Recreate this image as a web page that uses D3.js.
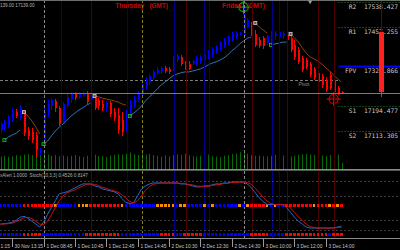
<!DOCTYPE html>
<html>
<head>
<meta charset="utf-8">
<script src="https://cdn.jsdelivr.net/npm/d3@7"></script>
<style>
html, body { margin: 0; padding: 0; background: #000; }
svg { display: block; }
text { white-space: pre; }
</style>
</head>
<body>
<div id="chart"></div>
<script>
// 15 min bars
var barOpen = [17117,17124,17130,17150,17176,17157,17176,17117,17111,17101,
    17045,17081,17170,17196,17213,17190,17144,17196,17219,17236,
    17226,17232,17239,17216,17222,17216,17203,17190,17206,17176,
    17167,17150,17117,17170,17196,17216,17236,17262,17275,17288,
    17305,17311,17321,17318,17314,17347,17357,17337,17334,17337,
    17334,17341,17347,17357,17364,17374,17380,17393,17403,17413,
    17423,17433,17426,17456,17462,17433,17413,17420,17403,17413,
    17426,17423,17426,17429,17420,17397,17380,17354,17347,17334,
    17318,17305,17295,17282,17298,17282,17255,17242];
var barHigh = [17144,17150,17167,17190,17186,17199,17180,17127,17124,17111,
    17058,17190,17216,17222,17219,17196,17209,17236,17242,17242,
    17242,17242,17245,17236,17226,17222,17216,17213,17213,17190,
    17190,17176,17183,17216,17229,17245,17282,17291,17301,17314,
    17324,17328,17328,17324,17360,17367,17364,17344,17344,17347,
    17360,17364,17374,17380,17390,17397,17410,17420,17429,17439,
    17443,17439,17525,17485,17472,17446,17423,17426,17429,17443,
    17443,17446,17443,17436,17426,17413,17390,17360,17354,17341,
    17324,17311,17301,17291,17308,17288,17262,17245];
var barLow = [17107,17114,17124,17144,17157,17150,17098,17084,17075,17025,
    17032,17078,17160,17183,17176,17130,17140,17190,17206,17216,
    17219,17226,17203,17209,17183,17183,17180,17176,17160,17147,
    17104,17098,17111,17167,17190,17209,17229,17249,17265,17282,
    17298,17305,17305,17301,17311,17341,17328,17314,17314,17331,
    17328,17334,17341,17351,17357,17367,17377,17387,17397,17406,
    17416,17429,17420,17452,17426,17390,17387,17383,17397,17403,
    17413,17413,17416,17410,17374,17347,17334,17308,17318,17291,
    17282,17268,17255,17242,17249,17232,17232,17236];
var barClose = [17137,17144,17157,17180,17163,17193,17107,17098,17084,17052,
    17052,17176,17203,17216,17190,17137,17203,17226,17236,17222,
    17239,17239,17209,17229,17190,17196,17190,17206,17170,17157,
    17117,17111,17173,17203,17219,17239,17268,17282,17295,17308,
    17314,17321,17311,17308,17354,17360,17334,17318,17318,17344,
    17354,17357,17367,17374,17383,17390,17403,17413,17423,17433,
    17436,17436,17492,17479,17433,17397,17393,17393,17426,17436,
    17436,17439,17436,17413,17380,17357,17341,17314,17324,17298,
    17288,17275,17265,17249,17255,17242,17239,17239];
var volume = [62,66,60,64,70,66,72,74,70,76, 68,80,72,66,70,64,68,62,66,70,
    64,60,66,70,72,66,64,60,66,70, 74,72,76,82,74,70,78,72,76,70,
    66,62,68,64,70,74,70,76,68,64, 62,66,70,72,64,62,60,66,70,74,
    78,84,80,76,70,66,68,64,62,66, 70,74,68,64,62,66,70,74,76,72,
    70,74,68,64,70,74,72,30];

// trailing stop line and its direction (U = up / blue, D = down / brown)
var trail = [17157,
    17084,17094,17101,17107,17117,
    17176,17163,17147,17127,17104,
    17071,17081,17098,17114,17127,17137,17150,17163,17173,17183,17190,17199,17206,
    17229,17226,17222,17219,17216,17213,17209,17203,17199,
    17163,17173,17183,17196,17213,17226,17239,17252,17265,17275,17285,17295,17301,17305,17308,17308,
    17311,17314,17318,17324,17331,17337,17341,17347,17354,17364,17377,17387,17400,17410,17419,17423,
    17469,17456,17446,17436,
    17397,17400,17403,17406,17406,
    17433,17420,17406,17387,17370,17357,17351,17344,17334,17321,17311,17298,17285,17275];
var trend = ("D" + "UUUUU" + "DDDDD" + "UUUUUUUUUUUUU" + "DDDDDDDDD" +
    "UUUUUUUUUUUUUUUUUUUUUUUUUUUUUUUU" + "DDDD" + "UUUUU" + "DDDDDDDDDDDDDD").split("");

var signalBars = [62, 85];
var signalPrices = [17521, 17219];
var signalColors = ["#00b400", "#e00000"];

// Stoch(10,3,3)
var stochMain = [12,13,14,16,20,26,28,24,18,12, 6,16,32,46,60,74,76,78,82,86,
    90,94,94,94,90,88,84,82,80,78, 74,64,56,54,56,70,84,90,94,96,
    96,96,96,96,96,96,94,94,92,90, 88,88,90,90,92,94,94,96,96,98,
    98,98,98,94,86,76,66,58,52,52, 52,52,52,46,36,26,18,12,6,4,
    4,4,4,4,4,4,6,8];
var stochSignal = [12,12,13,14,17,21,25,26,23,18, 12,11,18,31,46,60,70,76,79,82,
    86,90,93,94,93,91,87,85,82,80, 77,72,65,58,55,60,70,81,89,93,
    95,96,96,96,96,96,95,95,93,92, 90,89,89,89,91,92,93,95,95,97,
    97,98,98,97,93,85,76,67,59,54, 52,52,52,50,45,36,27,19,12,7,
    5,4,4,4,4,4,5,6];
var stochLevels = [100, 70, 20, 0];
var alertRow = ("bbbbbb" + "rrrrrrrr" + "o" + "bbbbb" + "ooo" + "rrrrrrrr" + "o" + "bbbbbbbb" +
    "ooooo" + "b" + "oo" + "bbbb" + "o" + "b" + "o" + "bbbbbb" + "o" + "b" + "o" + "rrrr" +
    "o" + "b" + "o" + "bb" + "rrrrrrr" + "o" + "rrr" + "o" + "r" + "o" + "r").split("");
var trendRow = ("bbbbbb" + "rrrrr" + "bbbbbbbbbbb" + "rrrrrrrrr" + "bbbbbbbbbb" + "rrrr" + "bb" +
    "rrrrr" + "bbbbbbbbbbbb" + "rrrrr" + "bbbb" + "rrrrrrrrrrr" + "b" + "rrr").split("");
var subTitle = "xAlert 1.0000  Stoch(10,3,3) 0.4526 0.8147";
var topInfo = "139.00 17139.00";

// pivots
var pivotNames = ["R2", "R1", "FPV", "S1", "S2"];
var pivotValues = [17538.427, 17457.255, 17325.866, 17194.477, 17113.305];
var dailyPivot = 17283.1;
var dayCandle = { bar: 97, open: 17439, high: 17570, low: 17226, close: 17242 };

// separators and session lines (bar positions)
var grayDashBars = [11, 62];
var oliveDashBars = [36];
var blueLineBars = [15.4, 32.3, 44.3, 51.9, 53.2, 69.3, 71.0];
var redLineBars = [23.1, 47.3, 64.2, 73.1, 81.0, 85.1];
var dayNames = ["Thursday   (GMT)", "Friday   (GMT)"];
var dayBars = [36, 62];

var tickBars = [3, 11, 19, 27, 35, 43, 51, 59, 67, 75, 83];
var tickLabels = ["30 Nov 13:15", "1 Dec 08:45", "1 Dec 10:45", "1 Dec 12:45",
    "1 Dec 14:45", "2 Dec 10:30", "2 Dec 12:30", "2 Dec 14:30", "3 Dec 10:00",
    "3 Dec 12:00", "3 Dec 14:00"];
var firstLabelTail = "1:15";

var width = 400, height = 250;
var N = barClose.length;
var mainBottom = 169, subTop = 171, subBottom = 238;

var x = d3.scaleLinear().domain([0, 87]).range([0.5, 341.5]);
var y = d3.scaleLinear().domain([17113.305, 17538.427]).range([131.2, 1.8]);
var yVol = d3.scaleLinear().domain([0, 100]).range([mainBottom, mainBottom - 20]);
var yStoch = d3.scaleLinear().domain([0, 100]).range([230, 181]);

var svg = d3.select("#chart").append("svg")
    .attr("width", width)
    .attr("height", height)
    .style("background", "#000");

var defs = svg.append("defs");
defs.append("clipPath").attr("id", "clipMain")
    .append("rect").attr("x", 0).attr("y", 0).attr("width", width).attr("height", mainBottom);

var main = svg.append("g").attr("clip-path", "url(#clipMain)");

// vertical lines in both panes
function vlines(bars, color, dash) {
    [[0, mainBottom], [subTop, subBottom]].forEach(function (r) {
        svg.append("g").selectAll("line")
            .data(bars)
            .enter()
            .append("line")
            .attr("x1", function (b) { return Math.round(x(b)) + 0.5; })
            .attr("x2", function (b) { return Math.round(x(b)) + 0.5; })
            .attr("y1", r[0])
            .attr("y2", r[1])
            .attr("stroke", color)
            .attr("stroke-width", 1)
            .attr("stroke-dasharray", dash);
    });
}
vlines(blueLineBars, "#00008c", null);
vlines(redLineBars, "#4e0000", null);
vlines(grayDashBars, "#8a8a8a", "3,2");
vlines(oliveDashBars, "#80801a", "3,2");

// top border
svg.append("line").attr("x1", 0).attr("x2", width).attr("y1", 0.5).attr("y2", 0.5)
    .attr("stroke", "#6e6e6e");

// pivot levels on the right
var pivX0 = x(N - 1) - 3;
pivotNames.forEach(function (name, k) {
    var py = Math.round(y(pivotValues[k])) + 0.5;
    main.append("line")
        .attr("x1", pivX0).attr("x2", width)
        .attr("y1", py).attr("y2", py)
        .attr("stroke", name === "FPV" ? "#0000ff" : "#2f7d2f")
        .attr("stroke-width", name === "FPV" ? 2 : 1)
        .attr("stroke-dasharray", name === "FPV" ? null : "1,2");
    main.append("text")
        .attr("x", pivX0 + 6.5)
        .attr("y", py + 6.5)
        .attr("fill", "#c8c8c8")
        .style("font-family", "'DejaVu Sans Mono', monospace")
        .style("font-size", "6.3px")
        .text((name.length < 3 ? " " + name : name) + "  " + pivotValues[k].toFixed(3));
});

// daily pivot
var dpY = Math.round(y(dailyPivot)) + 0.5;
main.append("line")
    .attr("x1", 0).attr("x2", pivX0)
    .attr("y1", dpY).attr("y2", dpY)
    .attr("stroke", "#7c7c7c")
    .attr("stroke-dasharray", "3,2");
main.append("text")
    .attr("x", x(76))
    .attr("y", dpY + 5.5)
    .attr("fill", "#8c8c8c")
    .style("font-family", "'Liberation Sans', Arial, sans-serif")
    .style("font-size", "5px")
    .text("Pivot");

// volumes
main.append("g").selectAll("line")
    .data(volume)
    .enter()
    .append("line")
    .attr("x1", function (d, i) { return Math.round(x(i)) + 0.5; })
    .attr("x2", function (d, i) { return Math.round(x(i)) + 0.5; })
    .attr("y1", yVol(0))
    .attr("y2", function (d) { return yVol(d); })
    .attr("stroke", "#066a06");

// last price line
var lastY = Math.round(y(barClose[N - 1])) + 0.5;
svg.append("line")
    .attr("x1", 0).attr("x2", width)
    .attr("y1", lastY).attr("y2", lastY)
    .attr("stroke", "#7a7a7a");

// candles
var idx = d3.range(N);
var candleColor = function (i) { return barClose[i] >= barOpen[i] ? "#0000ff" : "#ff0000"; };
var candles = main.append("g").attr("shape-rendering", "crispEdges");
candles.selectAll("line")
    .data(idx)
    .enter()
    .append("line")
    .attr("x1", function (i) { return Math.round(x(i)) + 0.5; })
    .attr("x2", function (i) { return Math.round(x(i)) + 0.5; })
    .attr("y1", function (i) { return y(barHigh[i]); })
    .attr("y2", function (i) { return y(barLow[i]); })
    .attr("stroke", candleColor);
candles.selectAll("rect")
    .data(idx)
    .enter()
    .append("rect")
    .attr("x", function (i) { return Math.round(x(i)); })
    .attr("width", 2)
    .attr("y", function (i) { return y(Math.max(barOpen[i], barClose[i])); })
    .attr("height", function (i) { return Math.max(1, Math.abs(y(barOpen[i]) - y(barClose[i]))); })
    .attr("fill", candleColor);

// day candle at the right
var dcx = Math.round(x(dayCandle.bar)) + 0.5;
main.append("line")
    .attr("x1", dcx).attr("x2", dcx)
    .attr("y1", y(dayCandle.high)).attr("y2", y(dayCandle.open))
    .attr("stroke", "#6a0000");
main.append("line")
    .attr("x1", dcx).attr("x2", dcx)
    .attr("y1", y(dayCandle.close)).attr("y2", y(dayCandle.low))
    .attr("stroke", "#ff2020");
main.append("rect")
    .attr("x", dcx - 2.5).attr("width", 5)
    .attr("y", y(dayCandle.open))
    .attr("height", y(dayCandle.close) - y(dayCandle.open))
    .attr("fill", "#ff2020");

// trailing line, split into runs
var segs = [];
trend.forEach(function (t, i) {
    if (i === 0 || t !== trend[i - 1]) segs.push({ t: t, idx: [] });
    segs[segs.length - 1].idx.push(i);
});
var trailLine = d3.line()
    .x(function (i) { return x(i); })
    .y(function (i) { return y(trail[i]); });
main.append("g").selectAll("path")
    .data(segs)
    .enter()
    .append("path")
    .attr("d", function (s) { return trailLine(s.idx); })
    .attr("fill", "none")
    .attr("stroke", function (s) { return s.t === "U" ? "#2f74b6" : "#943a12"; })
    .attr("stroke-width", 1);

var flips = idx.filter(function (i) { return i > 0 && trend[i] !== trend[i - 1]; });
main.append("g").selectAll("rect")
    .data(flips)
    .enter()
    .append("rect")
    .attr("x", function (i) { return x(i) - 1.5; })
    .attr("y", function (i) { return y(trail[i]) - 1.5; })
    .attr("width", 3)
    .attr("height", 3)
    .attr("fill", function (i) { return trend[i] === "U" ? "none" : "#7a4a4a"; })
    .attr("stroke", function (i) { return trend[i] === "U" ? "#10c010" : "#c8c0c0"; })
    .attr("stroke-width", 0.9);

// signal crosshairs
signalBars.forEach(function (b, k) {
    var cx = x(b), cy = y(signalPrices[k]);
    var g = main.append("g").attr("stroke", signalColors[k]).attr("fill", "none").attr("stroke-width", 1.1);
    g.append("circle").attr("cx", cx).attr("cy", cy).attr("r", 4.5);
    g.append("line").attr("x1", cx - 7).attr("x2", cx + 7).attr("y1", cy).attr("y2", cy);
    g.append("line").attr("x1", cx).attr("x2", cx).attr("y1", cy - 7).attr("y2", cy + 7);
});

// day labels
main.append("g").selectAll("text")
    .data(dayNames)
    .enter()
    .append("text")
    .attr("x", function (d, k) { return x(dayBars[k]); })
    .attr("y", 7.5)
    .attr("text-anchor", "middle")
    .attr("fill", "#d00000")
    .style("font-family", "'Liberation Sans', Arial, sans-serif")
    .style("font-weight", "bold")
    .style("font-size", "6.4px")
    .text(function (d) { return d; });

svg.append("text")
    .attr("x", 0).attr("y", 7)
    .attr("fill", "#b0b0b0")
    .style("font-family", "'Liberation Sans', Arial, sans-serif")
    .style("font-size", "4.6px")
    .text(topInfo);

// shift marker
svg.append("path")
    .attr("d", d3.symbol().type(d3.symbolTriangle).size(8)())
    .attr("transform", "translate(" + x(79) + ",1.8) rotate(180)")
    .attr("fill", "#9a9a9a");

// pane separator
svg.append("rect").attr("x", 0).attr("y", mainBottom).attr("width", width).attr("height", 1.6)
    .attr("fill", "#8c8c8c");

// stochastic pane
svg.append("g").selectAll("line")
    .data(stochLevels)
    .enter()
    .append("line")
    .attr("x1", 0).attr("x2", width)
    .attr("y1", function (d) { return Math.round(yStoch(d)) + 0.5; })
    .attr("y2", function (d) { return Math.round(yStoch(d)) + 0.5; })
    .attr("stroke", "#3c3c3c")
    .attr("stroke-dasharray", "2,2");

var rowColors = { b: "#0000ff", r: "#ff0000", o: "#f09000" };
[[alertRow, 50], [trendRow, -10]].forEach(function (row) {
    svg.append("g").attr("shape-rendering", "crispEdges").selectAll("rect")
        .data(row[0])
        .enter()
        .append("rect")
        .attr("x", function (c, i) { return x(i) - 1.3; })
        .attr("y", yStoch(row[1]) - 1.5)
        .attr("width", 2.7)
        .attr("height", 3)
        .attr("fill", function (c) { return rowColors[c]; });
});

var stochLine = d3.line()
    .x(function (d, i) { return x(i); })
    .y(function (d) { return yStoch(d); });
svg.append("path").datum(stochMain)
    .attr("d", stochLine).attr("fill", "none")
    .attr("stroke", "#2468d0").attr("stroke-width", 1);
svg.append("path").datum(stochSignal)
    .attr("d", stochLine).attr("fill", "none")
    .attr("stroke", "#c81010").attr("stroke-width", 1);

svg.append("text")
    .attr("x", 0).attr("y", 177)
    .attr("fill", "#b0b0b0")
    .style("font-family", "'Liberation Sans', Arial, sans-serif")
    .style("font-size", "4.6px")
    .text(subTitle);

// time axis
svg.append("line").attr("x1", 0).attr("x2", width).attr("y1", subBottom + 0.5).attr("y2", subBottom + 0.5)
    .attr("stroke", "#8c8c8c");
var ticks = svg.append("g").selectAll("g")
    .data(tickBars)
    .enter()
    .append("g")
    .attr("transform", function (b) { return "translate(" + (Math.round(x(b)) + 0.5) + ",0)"; });
ticks.append("line")
    .attr("y1", subBottom + 1).attr("y2", subBottom + 9)
    .attr("stroke", "#9a9a9a");
ticks.append("text")
    .attr("x", 2).attr("y", 247.5)
    .attr("fill", "#c8c8c8")
    .style("font-family", "'Liberation Sans', Arial, sans-serif")
    .style("font-size", "4.8px")
    .text(function (b, k) { return tickLabels[k]; });
svg.append("text")
    .attr("x", 0.5).attr("y", 247.5)
    .attr("fill", "#c8c8c8")
    .style("font-family", "'Liberation Sans', Arial, sans-serif")
    .style("font-size", "4.8px")
    .text(firstLabelTail);
</script>
</body>
</html>
